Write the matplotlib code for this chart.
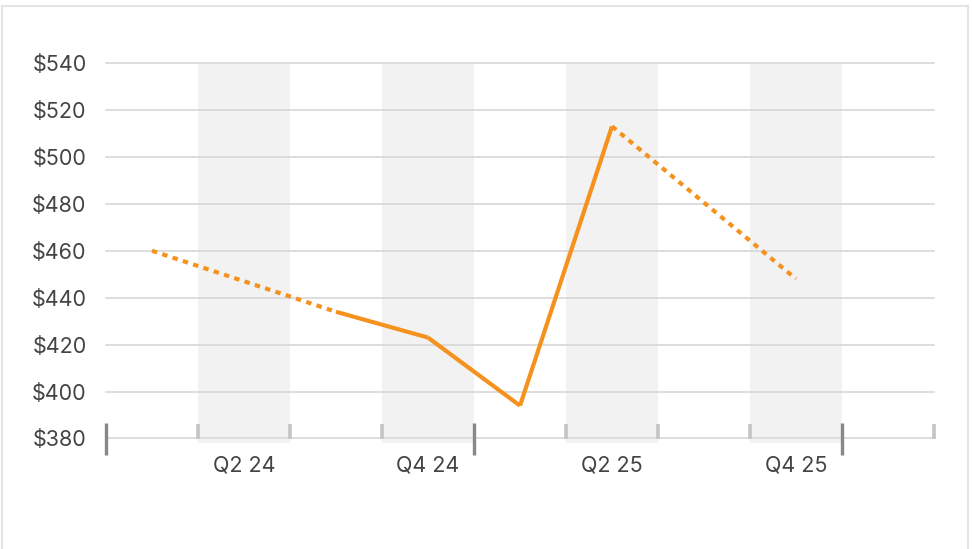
import matplotlib
matplotlib.use("Agg")
import matplotlib.pyplot as plt
from matplotlib.patches import Rectangle
import numpy as np

quarters = ['Q1 24', 'Q2 24', 'Q3 24', 'Q4 24', 'Q1 25', 'Q2 25', 'Q3 25', 'Q4 25', 'Q1 26']
values = [460, None, 434, 423, 394, 513, None, 448, None]
label_quarters = ['Q2 24', 'Q4 24', 'Q2 25', 'Q4 25']
yticks = [380, 400, 420, 440, 460, 480, 500, 520, 540]

W, H = 972, 549
plt.rcParams['font.family'] = ['Inter', 'DejaVu Sans']
fig = plt.figure(figsize=(W / 100, H / 100), dpi=100)
fig.patch.set_facecolor('white')
fig.patches.append(Rectangle((2 / W, -0.1), (968 - 2) / W, (H - 6) / H + 0.1,
                             transform=fig.transFigure, fill=False,
                             edgecolor='#e4e4e4', lw=1.5))

ax = fig.add_axes([106 / W, (H - 438.5) / H, (934 - 106) / W, (438.5 - 63) / H])
n = len(quarters)
ax.set_xlim(0, n)
ax.set_ylim(380, 540)

# shaded bands on even quarters
for i, q in enumerate(quarters):
    if i % 2 == 1 and i < n - 1:
        ax.axvspan(i, i + 1, ymin=-0.013, ymax=1, color='#f2f2f2', zorder=0, lw=0, clip_on=False)

for y in yticks:
    ax.axhline(y, color='#d4d4d4', lw=1.1, zorder=1, clip_on=False)

# line: solid between consecutive values, dashed across gaps
color = '#F5921E'
xs = np.arange(n) + 0.5
idx = [i for i, v in enumerate(values) if v is not None]
for a, b in zip(idx[:-1], idx[1:]):
    ls = '-' if b == a + 1 else (0, (1.3, 1.3))
    ax.plot([xs[a], xs[b]], [values[a], values[b]], color=color, lw=3,
            linestyle=ls, solid_capstyle='butt', dash_capstyle='butt', zorder=3)

for s in ax.spines.values():
    s.set_visible(False)

ax.set_yticks(yticks)
ax.set_yticklabels([f'${y}' for y in yticks])
ax.tick_params(axis='y', length=0, pad=14, labelsize=15.5, labelcolor='#444444')

major = [i for i in range(n + 1) if i % 4 == 0 and i < n]
minor = [i for i in range(n + 1) if i not in major]
ax.set_xticks(major)
ax.set_xticks(minor, minor=True)
ax.set_xticklabels([])
ax.tick_params(axis='x', which='major', direction='inout', length=23, width=2.4, color='#888888')
ax.tick_params(axis='x', which='minor', direction='in', length=11, width=2.6, color='#c4c4c4')

sec = ax.secondary_xaxis('bottom')
sec.set_xticks([quarters.index(q) + 0.5 for q in label_quarters])
sec.set_xticklabels(label_quarters)
sec.tick_params(length=0, pad=12, labelsize=15.5, labelcolor='#444444')
for s in sec.spines.values():
    s.set_visible(False)

fig.savefig('out.png', dpi=100)
